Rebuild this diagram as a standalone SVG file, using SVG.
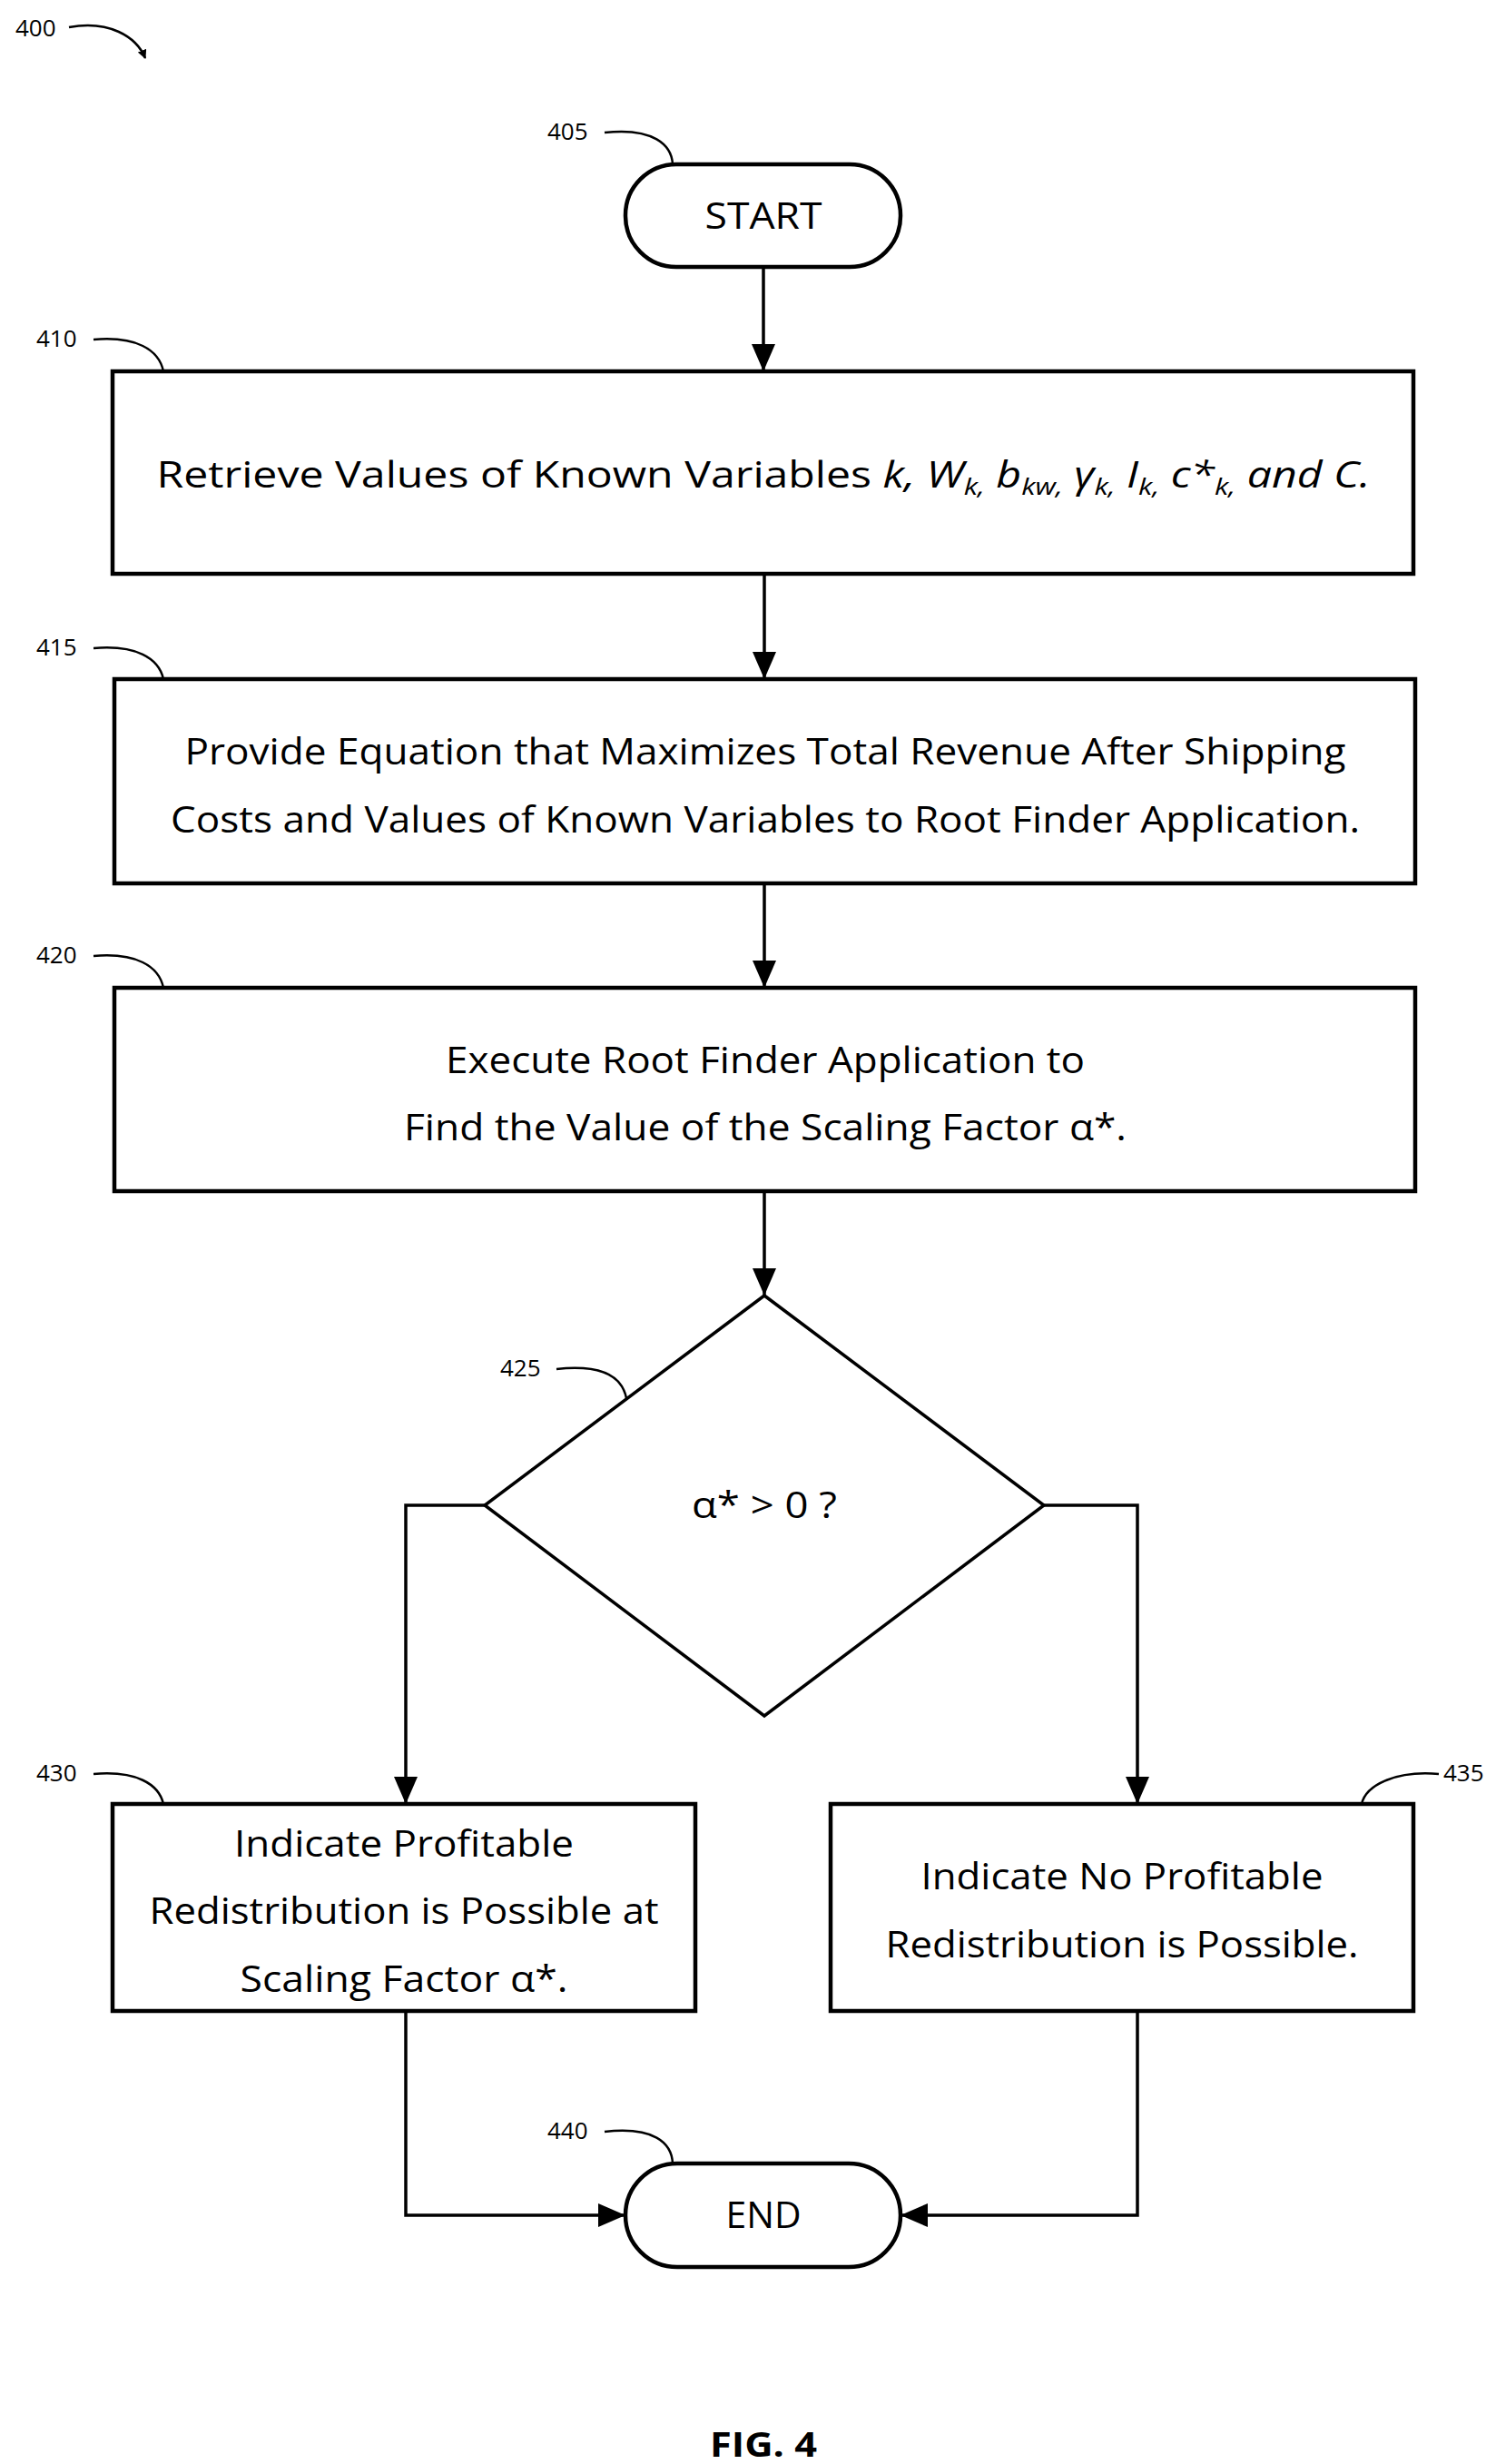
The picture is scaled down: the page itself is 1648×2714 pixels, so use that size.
<svg xmlns="http://www.w3.org/2000/svg" width="1648" height="2714" viewBox="0 0 1648 2714">
<style>
.b{fill:#fff;stroke:#000;stroke-width:4.5}
.c{fill:none;stroke:#000;stroke-width:3.5}
.l{fill:none;stroke:#000;stroke-width:2.5}
.t{font-family:"Open Sans","Liberation Sans",sans-serif;font-size:40px;fill:#000;text-anchor:middle}
.n{font-family:"Open Sans","Liberation Sans",sans-serif;font-size:26px;fill:#000}
.i{font-style:italic}
.s{font-size:26px;font-style:italic}
</style>
<defs>
<marker id="a" markerWidth="10" markerHeight="10" refX="9" refY="5" orient="auto" markerUnits="userSpaceOnUse" viewBox="0 0 10 10"><path d="M0,0L10,5L0,10z" fill="#000"/></marker>
<marker id="A" markerWidth="30" markerHeight="26" refX="30" refY="13" orient="auto" markerUnits="userSpaceOnUse"><path d="M0,0L30,13L0,26z" fill="#000"/></marker>
</defs>
<g id="n400"><text class="n" x="17" y="40">400</text><path class="l" d="M76,30 C120,22 150,40 160,64" marker-end="url(#a)"/></g>
<g id="connectors">
<path class="c" d="M841,294V409" marker-end="url(#A)"/>
<path class="c" d="M842,632V748" marker-end="url(#A)"/>
<path class="c" d="M842,973V1088" marker-end="url(#A)"/>
<path class="c" d="M842,1312V1427" marker-end="url(#A)"/>
<path class="c" d="M534,1658H447V1987" marker-end="url(#A)"/>
<path class="c" d="M1150,1658H1253V1987" marker-end="url(#A)"/>
<path class="c" d="M447,2215V2440H689" marker-end="url(#A)"/>
<path class="c" d="M1253,2215V2440H992" marker-end="url(#A)"/>
</g>
<g id="n405"><rect class="b" x="689" y="181" width="303" height="113" rx="56"/><text class="t" x="841" y="252" textLength="129" lengthAdjust="spacingAndGlyphs">START</text><text class="n" x="603" y="154">405</text><path class="l" d="M666,146 C720,140 740,160 741,181"/></g>
<g id="n410"><rect class="b" x="124" y="409" width="1433" height="223"/><text class="t" x="841" y="537" textLength="1337" lengthAdjust="spacingAndGlyphs">Retrieve Values of Known Variables <tspan class="i">k, W</tspan><tspan class="s" dy="8">k,</tspan><tspan class="i" dy="-8"> b</tspan><tspan class="s" dy="8">kw,</tspan><tspan class="i" dy="-8"> γ</tspan><tspan class="s" dy="8">k,</tspan><tspan class="i" dy="-8"> I</tspan><tspan class="s" dy="8">k,</tspan><tspan class="i" dy="-8"> c*</tspan><tspan class="s" dy="8">k,</tspan><tspan class="i" dy="-8"> and C.</tspan></text><text class="n" x="40" y="382">410</text><path class="l" d="M103,374 C150,370 175,385 180,409"/></g>
<g id="n415"><rect class="b" x="126" y="748" width="1433" height="225"/><text class="t" x="843" y="842" textLength="1279" lengthAdjust="spacingAndGlyphs">Provide Equation that Maximizes Total Revenue After Shipping</text><text class="t" x="843" y="917" textLength="1310" lengthAdjust="spacingAndGlyphs">Costs and Values of Known Variables to Root Finder Application.</text><text class="n" x="40" y="722">415</text><path class="l" d="M103,714 C150,710 175,725 180,748"/></g>
<g id="n420"><rect class="b" x="126" y="1088" width="1433" height="224"/><text class="t" x="843" y="1182" textLength="704" lengthAdjust="spacingAndGlyphs">Execute Root Finder Application to</text><text class="t" x="843" y="1256" textLength="796" lengthAdjust="spacingAndGlyphs">Find the Value of the Scaling Factor α*.</text><text class="n" x="40" y="1061">420</text><path class="l" d="M103,1053 C150,1049 175,1064 180,1088"/></g>
<g id="n425"><path class="b" style="stroke-width:3.5" d="M842,1427L1150,1658L842,1890L534,1658z"/><text class="t" x="842" y="1672" textLength="160" lengthAdjust="spacingAndGlyphs">α* &gt; 0 ?</text><text class="n" x="551" y="1516">425</text><path class="l" d="M613,1508 C660,1503 685,1515 690,1540"/></g>
<g id="n430"><rect class="b" x="124" y="1987" width="642" height="228"/><text class="t" x="445" y="2045" textLength="374" lengthAdjust="spacingAndGlyphs">Indicate Profitable</text><text class="t" x="445" y="2119" textLength="561" lengthAdjust="spacingAndGlyphs">Redistribution is Possible at</text><text class="t" x="445" y="2194" textLength="361" lengthAdjust="spacingAndGlyphs">Scaling Factor α*.</text><text class="n" x="40" y="1962">430</text><path class="l" d="M103,1954 C150,1950 175,1965 180,1987"/></g>
<g id="n435"><rect class="b" x="915" y="1987" width="642" height="228"/><text class="t" x="1236" y="2081" textLength="443" lengthAdjust="spacingAndGlyphs">Indicate No Profitable</text><text class="t" x="1236" y="2156" textLength="521" lengthAdjust="spacingAndGlyphs">Redistribution is Possible.</text><text class="n" x="1590" y="1962">435</text><path class="l" d="M1585,1954 C1540,1950 1505,1965 1500,1987"/></g>
<g id="n440"><rect class="b" x="689" y="2383" width="303" height="114" rx="57"/><text class="t" x="841" y="2454" textLength="83" lengthAdjust="spacingAndGlyphs">END</text><text class="n" x="603" y="2356">440</text><path class="l" d="M666,2348 C720,2342 740,2360 741,2383"/></g>
<text x="841" y="2706" style="font-family:'Open Sans','Liberation Sans',sans-serif;font-weight:bold;font-size:38px;text-anchor:middle" textLength="118" lengthAdjust="spacingAndGlyphs">FIG. 4</text>
</svg>
